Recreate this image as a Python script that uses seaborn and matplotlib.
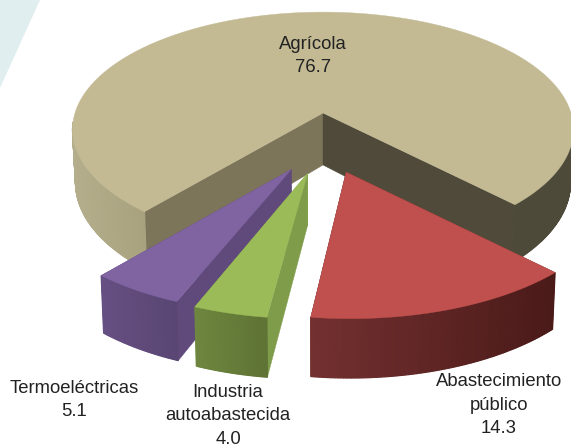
import numpy as np
import matplotlib
matplotlib.use("Agg")
import matplotlib.pyplot as plt
import seaborn as sns

# Data
labels = ["Agrícola", "Abastecimiento\npúblico", "Industria\nautoabastecida", "Termoeléctricas"]
values = [76.7, 14.3, 4.0, 5.1]

# Styles
top_colors = ["#C3BA94", "#C0504D", "#9BBB59", "#8064A2"]
rim_left = ["#B4AE8C", "#733030", "#6E863F", "#664F82"]
rim_right = ["#A8A27F", "#491A18", "#5E7334", "#594673"]
rim_back = "#4E4A3A"
face_colors = [("#7C7559", "#4F4A3A"), ("#733030", "#491A18"), ("#7F9C4A", "#7F9C4A"), ("#604A7B", "#604A7B")]
explode_u = [0.0, 0.087, -0.058, -0.12]
explode_v = [0.0, 0.48, 0.49, 0.46]
radius_u = [1.0, 1.0, 0.975, 0.975]
radius_v = [1.0, 0.95, 0.94, 0.94]
depth = [52, 47.5, 48, 48]
label_xy = [(313, 56), (499, 405), (228, 416), (74, 400)]
label_spacing = [1.4, 1.5, 1.5, 1.5]
layer = [10, 40, 30, 20]

sns.set_theme(style="white")
plt.rcParams["font.family"] = ["Liberation Sans", "DejaVu Sans"]

CX, CY, R, B, K = 323, 113, 248, 115, 0.14
START = -40.0
SHRINK = 0.012

def project(u, v, h=0.0):
    u, v, h = np.asarray(u, float), np.asarray(v, float), np.asarray(h, float)
    s = 1.0 / (1.0 - K * v)
    return CX + R * u * s * (1 - SHRINK * h / 52), CY + B * v * s + h * s

fig, ax = plt.subplots(figsize=(5.71, 4.48), dpi=100)
fig.subplots_adjust(0, 0, 1, 1)
ax.set_xlim(0, 571)
ax.set_ylim(448, 0)
ax.axis("off")

# faint backdrop streak
ax.fill([0, 40, 0], [0, 0, 88], color="#E1EEF0", lw=0, zorder=0)

total = sum(values)
angle = START
for i, val in enumerate(values):
    sweep = val / total * 360.0
    th = np.radians(np.linspace(angle, angle - sweep, max(int(sweep * 2), 60)))
    angle -= sweep
    eu, ev, z = explode_u[i], explode_v[i], layer[i]
    ru = eu + radius_u[i] * np.sin(th)
    rv = ev + radius_v[i] * np.cos(th)
    d = depth[i]

    # inner faces from the apex to both ends of the arc
    for end, col in ((0, face_colors[i][0]), (-1, face_colors[i][1])):
        xs, ys = project([eu, ru[end], ru[end], eu], [ev, rv[end], rv[end], ev], [0, 0, d, d])
        ax.fill(xs, ys, color=col, lw=0.3, ec=col, zorder=z)

    # outer rim, shaded along the arc
    shades = sns.blend_palette([rim_left[i], rim_right[i]], 64)
    px = project(ru, rv)[0]
    umin, umax = px.min(), px.max()
    if i == 0:
        umin, umax = px.min(), project(ru[0], rv[0])[0]
    for a in range(len(th) - 1):
        if np.cos(th[a]) < 0.08:
            continue
        xs, ys = project([ru[a], ru[a + 1], ru[a + 1], ru[a]], [rv[a], rv[a + 1], rv[a + 1], rv[a]], [0, 0, d, d])
        t = (np.mean(xs) - umin) / (umax - umin)
        col = shades[int(np.clip(t, 0, 1) * 63)]
        if i == 0 and np.mean(xs) > CX:
            col = rim_back
        ax.fill(xs, ys, color=col, ec=col, lw=0.9, zorder=z + 1)

    # top face
    xs, ys = project(np.r_[eu, ru], np.r_[ev, rv])
    ax.fill(xs, ys, color=top_colors[i], ec=top_colors[i], lw=0.3, zorder=z + 2)

    lx, ly = label_xy[i]
    ax.text(lx, ly, f"{labels[i]}\n{val:.1f}", ha="center", va="center", fontsize=13.3,
            color="#222222", linespacing=label_spacing[i], zorder=60)

fig.savefig("out.png", dpi=100)
